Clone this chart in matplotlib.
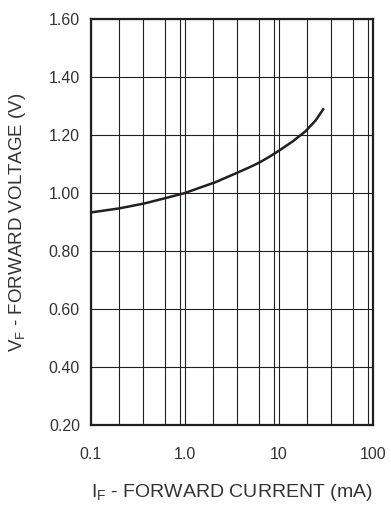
import matplotlib
matplotlib.use("Agg")
import matplotlib.pyplot as plt
from matplotlib.ticker import FixedLocator, NullFormatter

# データ
current_ma = [0.1, 0.2, 0.37, 0.63, 1.0, 1.4, 2.1, 3.6, 4.8, 6.1, 8.0, 10, 14, 19, 24.5, 30]
forward_v = [0.933, 0.947, 0.964, 0.983, 1.0, 1.017, 1.037, 1.070, 1.088, 1.104, 1.126,
             1.146, 1.178, 1.212, 1.250, 1.292]

x_ticks = [0.1, 1.0, 10, 100]
x_labels = ["0.1", "1.0", "10", "100"]
y_ticks = [0.20, 0.40, 0.60, 0.80, 1.00, 1.20, 1.40, 1.60]
minor_mult = [2, 3.6, 6.2, 8.9]  # 各デケード内の縦グリッド位置

ink = "#231f20"
plt.rcParams["font.family"] = ["Liberation Sans", "DejaVu Sans"]
plt.rcParams["mathtext.fontset"] = "custom"
plt.rcParams["mathtext.rm"] = "Liberation Sans"

fig = plt.figure(figsize=(3.91, 5.14), dpi=100)
ax = fig.add_axes([91 / 391, 89 / 514, 282 / 391, 406 / 514])

ax.plot(current_ma, forward_v, color=ink, linewidth=1.8,
        solid_capstyle="butt", solid_joinstyle="round")

ax.set_xscale("log")
ax.set_xlim(0.1, 100)
ax.set_ylim(0.2, 1.6)

ax.set_xticks(x_ticks)
ax.set_xticklabels(x_labels)
minor = [m * d for d in [0.1, 1, 10] for m in minor_mult]
ax.xaxis.set_minor_locator(FixedLocator(minor))
ax.xaxis.set_minor_formatter(NullFormatter())
ax.set_yticks(y_ticks)
ax.set_yticklabels([f"{v:.2f}" for v in y_ticks])

# グリッド線
ax.grid(True, which="both", axis="x", color=ink, linewidth=0.8)
ax.grid(True, which="major", axis="y", color=ink, linewidth=0.8)

ax.tick_params(which="both", length=0, colors="#333333", labelsize=11.5)
ax.tick_params(axis="x", pad=16)
ax.tick_params(axis="y", pad=8)

for s in ax.spines.values():
    s.set_linewidth(1.6)
    s.set_color(ink)

ax.set_xlabel(r"$\mathregular{I_F}$ - FORWARD CURRENT (mA)", fontsize=14, color="#333333", labelpad=14)
ax.set_ylabel(r"$\mathregular{V_F}$ - FORWARD VOLTAGE (V)", fontsize=13.5, color="#333333", labelpad=15)

fig.savefig("out.png", dpi=100)
plt.close(fig)
